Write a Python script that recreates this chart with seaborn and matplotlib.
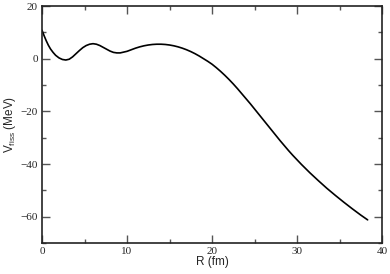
import numpy as np
import pandas as pd
import matplotlib
matplotlib.use("Agg")
import matplotlib.pyplot as plt
import seaborn as sns
from matplotlib.ticker import MultipleLocator

# Values
r_fm = [0.0, 0.25, 0.5, 0.75, 1.0, 1.3, 1.6, 2.0, 2.4, 2.8, 3.2, 3.6, 4.0,
        4.4, 4.8, 5.2, 5.6, 6.0, 6.4, 6.8, 7.2, 7.6, 8.0, 8.4, 8.8, 9.2,
        9.6, 10.0, 10.5, 11.0, 11.5, 12.0, 12.5, 13.0, 13.5, 14.0, 14.5,
        15.0, 15.5, 16.0, 16.5, 17.0, 17.5, 18.0, 18.5, 19.0, 19.5, 20.0,
        20.5, 21.0, 21.5, 22.0, 22.5, 23.0, 23.5, 24.0, 24.5, 25.0, 25.5,
        26.0, 26.5, 27.0, 27.5, 28.0, 28.5, 29.0, 29.5, 30.0, 30.5, 31.5,
        32.5, 33.5, 34.5, 35.5, 36.5, 37.5, 38.3]
v_fiss = [10.8, 8.7, 6.8, 5.1, 3.7, 2.4, 1.3, 0.3, -0.3, -0.5, -0.2, 0.7, 1.9,
          3.1, 4.2, 5.0, 5.5, 5.7, 5.5, 5.0, 4.3, 3.6, 2.9, 2.4, 2.2, 2.2,
          2.5, 2.8, 3.4, 4.0, 4.5, 4.9, 5.2, 5.4, 5.5, 5.5, 5.4,
          5.2, 4.9, 4.5, 4.0, 3.4, 2.7, 1.9, 1.0, 0.0, -1.0, -2.1,
          -3.4, -4.8, -6.3, -7.9, -9.6, -11.4, -13.3, -15.2, -17.1, -19.1, -21.1,
          -23.1, -25.1, -27.1, -29.1, -31.1, -33.0, -34.9, -36.7, -38.4, -40.1, -43.3,
          -46.3, -49.2, -51.9, -54.5, -57.0, -59.4, -61.2]

df = pd.DataFrame({"R": r_fm, "V": v_fiss})

sns.set_theme(style="ticks")
plt.rcParams['font.family'] = ['Liberation Sans', 'DejaVu Sans']

fig = plt.figure(figsize=(3.9, 2.74), dpi=100)
ax = fig.add_axes([0.1077, 0.113, 0.872, 0.865])

sns.lineplot(data=df, x="R", y="V", sort=False, estimator=None,
             color="black", linewidth=1.2, ax=ax)

ax.set_xlim(0, 40)
ax.set_ylim(-70, 20)
ax.xaxis.set_major_locator(MultipleLocator(10))
ax.xaxis.set_minor_locator(MultipleLocator(5))
ax.yaxis.set_major_locator(MultipleLocator(20))
ax.yaxis.set_minor_locator(MultipleLocator(10))

ax.tick_params(which="both", direction="in", top=True, right=True,
               color="#555555", width=1.0)
ax.tick_params(which="major", length=6, pad=3)
ax.tick_params(which="minor", length=3)
for lbl in ax.get_xticklabels() + ax.get_yticklabels():
    lbl.set_family("Liberation Serif")
    lbl.set_fontsize(8)

for side in ["left", "right", "top", "bottom"]:
    ax.spines[side].set_color("#222222")
    ax.spines[side].set_linewidth(1.2)

ax.set_xlabel("R (fm)", fontsize=8.5, labelpad=0)
ax.set_ylabel("V$_\\mathregular{fiss}$ (MeV)", fontsize=8.5, labelpad=2)

fig.savefig("out.png", dpi=100)
